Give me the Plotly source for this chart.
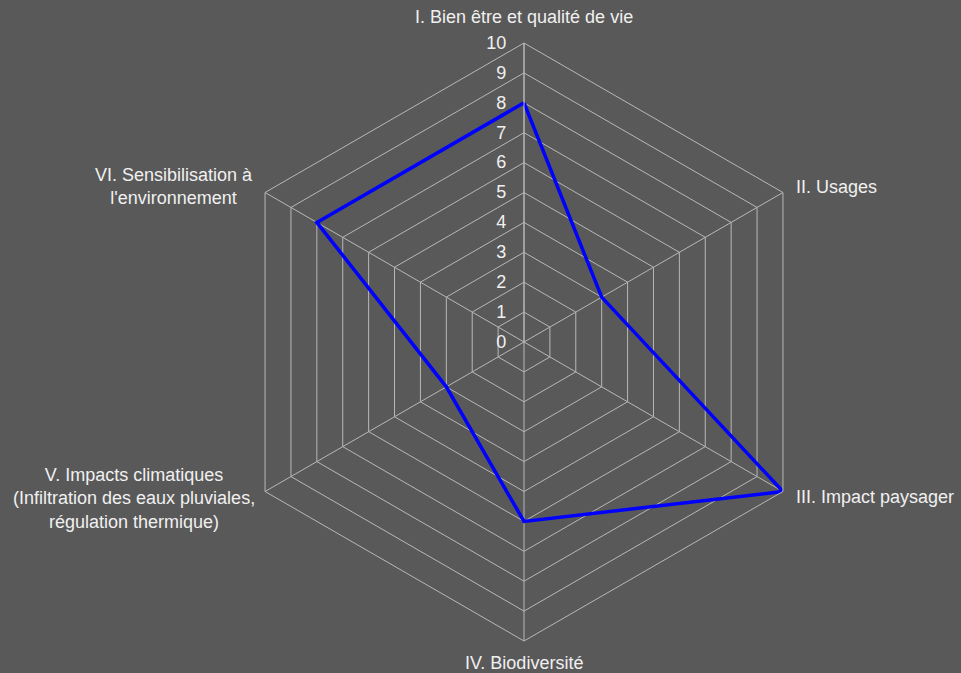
import plotly.graph_objects as go

categories = [
    "I. Bien être et qualité de vie",
    "II. Usages",
    "III. Impact paysager",
    "IV. Biodiversité",
    "V. Impacts climatiques<br>(Infiltration des eaux pluviales,<br>régulation thermique)",
    "VI. Sensibilisation à<br>l'environnement",
]
values = [8, 3, 10, 6, 3, 8]
tick_vals = list(range(0, 11))
tick_text = [str(v) for v in tick_vals]

BG = "#595959"
GRID = "#b8b8b8"
TXT = "#f0f0f0"
FONT = "Liberation Sans, Arial, sans-serif"
FS = 18

fig = go.Figure()
fig.add_trace(go.Scatterpolar(
    r=values + values[:1],
    theta=categories + categories[:1],
    mode="lines",
    line=dict(color="#0000ff", width=3.5),
    showlegend=False,
))

W, H = 961, 673
cx, cy, R = 524, 342, 299
fig.update_layout(
    width=W, height=H,
    paper_bgcolor=BG, plot_bgcolor=BG,
    margin=dict(l=0, r=0, t=0, b=0),
    font=dict(family=FONT, size=FS, color=TXT),
    polar=dict(
        bgcolor=BG,
        gridshape="linear",
        domain=dict(x=[(cx - R) / W, (cx + R) / W], y=[(H - cy - R) / H, (H - cy + R) / H]),
        angularaxis=dict(
            direction="clockwise", rotation=90,
            showgrid=True, gridcolor=GRID, gridwidth=1,
            linecolor=GRID, linewidth=1, showline=True,
            ticks="", showticklabels=False,
        ),
        radialaxis=dict(
            range=[0, 10], tickvals=tick_vals, ticktext=tick_text,
            angle=90, tickangle=90, side="counterclockwise",
            showgrid=True, gridcolor=GRID, gridwidth=1,
            showline=True, linecolor=GRID, linewidth=1,
            ticks="outside", ticklen=11, tickcolor="rgba(0,0,0,0)",
            tickfont=dict(size=FS, color=TXT),
        ),
    ),
)

# category labels placed around the hexagon (pixel anchors)
label_pos = [
    (524, 28, "center", "bottom"),
    (795, 187, "left", "middle"),
    (795, 497, "left", "middle"),
    (524, 652, "center", "top"),
    (256, 498, "right", "middle"),
    (254, 186, "right", "middle"),
]
for text, (px, py, xa, ya) in zip(categories, label_pos):
    fig.add_annotation(
        text=text, x=px / W, y=1 - py / H, xref="paper", yref="paper",
        xanchor=xa, yanchor=ya, align="center", showarrow=False,
        font=dict(family=FONT, size=FS, color=TXT), borderpad=0,
    )

fig.write_html("out.html", config={"displayModeBar": False},
               post_script="document.body.style.margin='0';")
